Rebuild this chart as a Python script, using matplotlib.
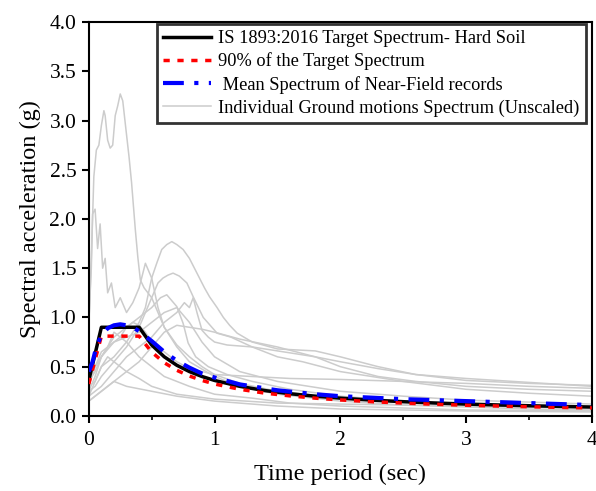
import matplotlib
matplotlib.use("Agg")
import matplotlib.pyplot as plt

plt.rcParams['font.family'] = ['Liberation Serif', 'DejaVu Serif']

# Target spectrum (IS 1893:2016, hard soil)
target_T = [0.0, 0.05, 0.1, 0.2, 0.3, 0.4, 0.5, 0.6, 0.7, 0.8, 0.9, 1.0, 1.2, 1.4, 1.6, 1.8, 2.0,
            2.25, 2.5, 2.75, 3.0, 3.25, 3.5, 3.75, 4.0]
target_Sa = [0.36, 0.63, 0.9, 0.9, 0.9, 0.9, 0.72, 0.6, 0.514, 0.45, 0.4, 0.36, 0.3, 0.257, 0.225,
             0.2, 0.18, 0.16, 0.144, 0.131, 0.12, 0.111, 0.103, 0.096, 0.09]
target90_Sa = [0.324, 0.567, 0.81, 0.81, 0.81, 0.81, 0.648, 0.54, 0.463, 0.405, 0.36, 0.324, 0.27,
               0.231, 0.203, 0.18, 0.162, 0.144, 0.13, 0.118, 0.108, 0.1, 0.093, 0.086, 0.081]

# Mean spectrum of near-field records
mean_T = [0.0, 0.03, 0.06, 0.1, 0.15, 0.2, 0.25, 0.3, 0.35, 0.4, 0.5, 0.6, 0.7, 0.8, 0.9, 1.0, 1.2,
          1.5, 1.8, 2.0, 2.5, 3.0, 3.5, 4.0]
mean_Sa = [0.45, 0.55, 0.7, 0.82, 0.89, 0.92, 0.93, 0.92, 0.9, 0.86, 0.76, 0.65, 0.56, 0.49, 0.43,
           0.39, 0.32, 0.26, 0.22, 0.2, 0.17, 0.15, 0.13, 0.11]

# Individual ground motion spectra (unscaled)
gm1_T = [0, 0.02, 0.04, 0.06, 0.08, 0.1, 0.12, 0.13, 0.15, 0.17, 0.19, 0.21, 0.23, 0.25, 0.27, 0.29,
         0.32, 0.34, 0.37, 0.39, 0.41, 0.44, 0.47, 0.5, 0.55, 0.6, 0.7, 0.8, 0.9, 1.0, 1.2, 1.5, 2.0,
         2.5, 3.0, 3.5, 4.0]
gm1_Sa = [0.9, 1.6, 2.43, 2.7, 2.75, 2.95, 3.1, 3.05, 2.8, 2.72, 2.75, 3.05, 3.15, 3.27, 3.2, 2.97,
          2.63, 2.37, 1.89, 1.61, 1.38, 1.3, 1.25, 1.2, 1.05, 0.9, 0.72, 0.6, 0.5, 0.42, 0.33, 0.25,
          0.18, 0.14, 0.11, 0.09, 0.08]
gm2_T = [0, 0.02, 0.03, 0.05, 0.07, 0.09, 0.11, 0.13, 0.15, 0.18, 0.21, 0.25, 0.3, 0.35, 0.4, 0.45,
         0.5, 0.55, 0.6, 0.7, 0.8, 1.0, 1.2, 1.5, 2.0, 2.5, 3.0, 3.5, 4.0]
gm2_Sa = [0.95, 1.5, 2.05, 2.1, 1.7, 1.95, 1.5, 1.6, 1.25, 1.35, 1.1, 1.2, 1.05, 1.15, 1.3, 1.55,
          1.4, 1.1, 0.9, 0.7, 0.55, 0.4, 0.3, 0.22, 0.15, 0.11, 0.09, 0.07, 0.06]
gm3_T = [0, 0.05, 0.1, 0.2, 0.3, 0.4, 0.45, 0.5, 0.54, 0.58, 0.62, 0.66, 0.7, 0.75, 0.8, 0.86, 0.92,
         0.96, 1.02, 1.07, 1.12, 1.18, 1.3, 1.5, 1.8, 2.0, 2.3, 2.6, 3.0, 3.5, 4.0]
gm3_Sa = [0.3, 0.35, 0.5, 0.6, 0.75, 0.95, 1.1, 1.4, 1.55, 1.69, 1.74, 1.77, 1.74, 1.69, 1.6, 1.45,
          1.3, 1.21, 1.1, 1.0, 0.92, 0.84, 0.75, 0.68, 0.66, 0.6, 0.5, 0.42, 0.36, 0.33, 0.31]
gm4_T = [0, 0.05, 0.1, 0.2, 0.3, 0.4, 0.5, 0.55, 0.59, 0.63, 0.67, 0.72, 0.78, 0.83, 0.91, 1.02,
         1.13, 1.3, 1.5, 1.7, 2.0, 2.5, 3.0, 3.5, 4.0]
gm4_Sa = [0.25, 0.3, 0.4, 0.55, 0.7, 0.9, 1.2, 1.35, 1.4, 1.43, 1.45, 1.42, 1.35, 1.21, 1.0, 0.84,
          0.8, 0.7, 0.6, 0.55, 0.45, 0.35, 0.27, 0.23, 0.2]
gm5_T = [0, 0.1, 0.2, 0.3, 0.4, 0.5, 0.57, 0.62, 0.7, 0.75, 0.79, 0.85, 0.95, 1.1, 1.3, 1.6, 2.0,
         2.5, 3.0, 3.5, 4.0]
gm5_Sa = [0.4, 0.6, 0.8, 0.9, 1.0, 1.1, 1.2, 1.23, 1.11, 0.94, 0.74, 0.6, 0.5, 0.42, 0.35, 0.27,
          0.2, 0.15, 0.12, 0.1, 0.08]
gm6_T = [0, 0.1, 0.2, 0.3, 0.4, 0.5, 0.6, 0.7, 0.76, 0.8, 0.83, 0.86, 0.9, 0.95, 1.0, 1.1, 1.3,
         1.5, 1.8, 2.0, 2.3, 2.6, 3.0, 3.5, 4.0]
gm6_Sa = [0.2, 0.3, 0.45, 0.6, 0.7, 0.8, 0.95, 1.05, 1.15, 1.1, 1.2, 1.05, 0.87, 0.8, 0.75, 0.72,
          0.7, 0.66, 0.6, 0.55, 0.48, 0.42, 0.38, 0.34, 0.3]
gm7_T = [0, 0.05, 0.1, 0.15, 0.2, 0.25, 0.3, 0.35, 0.4, 0.45, 0.5, 0.6, 0.7, 0.8, 1.0, 1.3, 1.6,
         2.0, 2.5, 3.0, 3.5, 4.0]
gm7_Sa = [0.35, 0.45, 0.6, 0.7, 0.85, 0.8, 0.9, 0.95, 0.92, 0.85, 0.75, 0.65, 0.55, 0.48, 0.42,
          0.4, 0.38, 0.37, 0.35, 0.33, 0.3, 0.28]
gm8_T = [0, 0.05, 0.1, 0.15, 0.25, 0.3, 0.4, 0.5, 0.6, 0.8, 1.0, 1.3, 1.6, 2.0, 2.5, 3.0, 4.0]
gm8_Sa = [0.3, 0.5, 0.65, 0.7, 0.8, 0.75, 0.6, 0.5, 0.4, 0.3, 0.22, 0.18, 0.13, 0.1, 0.08, 0.06, 0.05]
gm9_T = [0, 0.05, 0.1, 0.15, 0.2, 0.3, 0.4, 0.5, 0.7, 1.0, 1.5, 2.0, 2.5, 3.0, 3.5, 4.0]
gm9_Sa = [0.2, 0.35, 0.5, 0.6, 0.55, 0.45, 0.38, 0.3, 0.22, 0.17, 0.13, 0.12, 0.11, 0.1, 0.09, 0.08]
gm10_T = [0, 0.1, 0.2, 0.3, 0.4, 0.5, 0.6, 0.7, 0.8, 0.9, 1.0, 1.2, 1.5, 1.8, 2.0, 2.3, 2.6, 3.0,
          3.5, 4.0]
gm10_Sa = [0.15, 0.25, 0.35, 0.45, 0.55, 0.7, 0.85, 0.92, 0.9, 0.88, 0.85, 0.78, 0.7, 0.6, 0.5,
           0.4, 0.35, 0.3, 0.27, 0.25]
gm11_T = [0, 0.05, 0.1, 0.2, 0.3, 0.4, 0.5, 0.6, 0.7, 0.8, 0.9, 1.0, 1.2, 1.5, 2.0, 2.5, 3.0, 3.5, 4.0]
gm11_Sa = [0.25, 0.4, 0.6, 0.75, 0.8, 0.85, 0.95, 1.05, 1.1, 0.95, 0.75, 0.6, 0.45, 0.35, 0.25,
           0.2, 0.16, 0.14, 0.12]
gm12_T = [0, 0.1, 0.2, 0.3, 0.5, 0.7, 1.0, 1.5, 2.0, 3.0, 4.0]
gm12_Sa = [0.15, 0.25, 0.35, 0.3, 0.25, 0.2, 0.15, 0.1, 0.07, 0.05, 0.04]

records = [(gm1_T, gm1_Sa), (gm2_T, gm2_Sa), (gm3_T, gm3_Sa), (gm4_T, gm4_Sa), (gm5_T, gm5_Sa),
           (gm6_T, gm6_Sa), (gm7_T, gm7_Sa), (gm8_T, gm8_Sa), (gm9_T, gm9_Sa), (gm10_T, gm10_Sa),
           (gm11_T, gm11_Sa), (gm12_T, gm12_Sa)]

fig = plt.figure(figsize=(5.96, 4.91), dpi=100)
ax = fig.add_axes([0.149, 0.153, 0.844, 0.802])

for i, (t, s) in enumerate(records):
    ax.plot(t, s, color='#cccccc', lw=1.1, zorder=1,
            label='Individual Ground motions Spectrum (Unscaled)' if i == 0 else None)
hg = ax.get_lines()[0]

h1, = ax.plot(target_T, target_Sa, color='black', lw=2.5, zorder=3,
              label='IS 1893:2016 Target Spectrum- Hard Soil')
h2, = ax.plot(target_T, target90_Sa, color='red', lw=2.5, ls=(0, (1.8, 2.2)), zorder=4,
              label='90% of the Target Spectrum')
h3, = ax.plot(mean_T, mean_Sa, color='blue', lw=3, ls=(0, (5, 2.5, 1, 2.5)), zorder=5,
              label=' Mean Spectrum of Near-Field records')

ax.set_xlim(0, 4)
ax.set_ylim(0, 4)
ax.set_xticks([0, 1, 2, 3, 4])
ax.set_xticks([0.5, 1.5, 2.5, 3.5], minor=True)
ax.set_yticks([0, 0.5, 1.0, 1.5, 2.0, 2.5, 3.0, 3.5, 4.0])
ax.set_yticklabels(['0.0', '0.5', '1.0', '1.5', '2.0', '2.5', '3.0', '3.5', '4.0'])
ax.tick_params(which='major', direction='out', length=5, width=1.5, labelsize=15.5,
               colors='black', pad=4)
ax.tick_params(axis='x', which='major', pad=6)
ax.tick_params(which='minor', direction='out', length=3, width=1.2)
for sp in ax.spines.values():
    sp.set_linewidth(1.5)

ax.set_xlabel('Time period (sec)', fontsize=17.5, labelpad=10)
ax.set_ylabel('Spectral acceleration (g)', fontsize=17.5, labelpad=6)

leg = ax.legend(handles=[h1, h2, h3, hg], loc='upper right', bbox_to_anchor=(0.988, 0.996),
                fontsize=13.2, frameon=True, fancybox=False, handlelength=2.6,
                borderpad=0.35, labelspacing=0.3, handletextpad=0.4, borderaxespad=0)
leg.get_frame().set_edgecolor('black')
leg.get_frame().set_linewidth(2.0)

fig.savefig('out.png', dpi=100)
